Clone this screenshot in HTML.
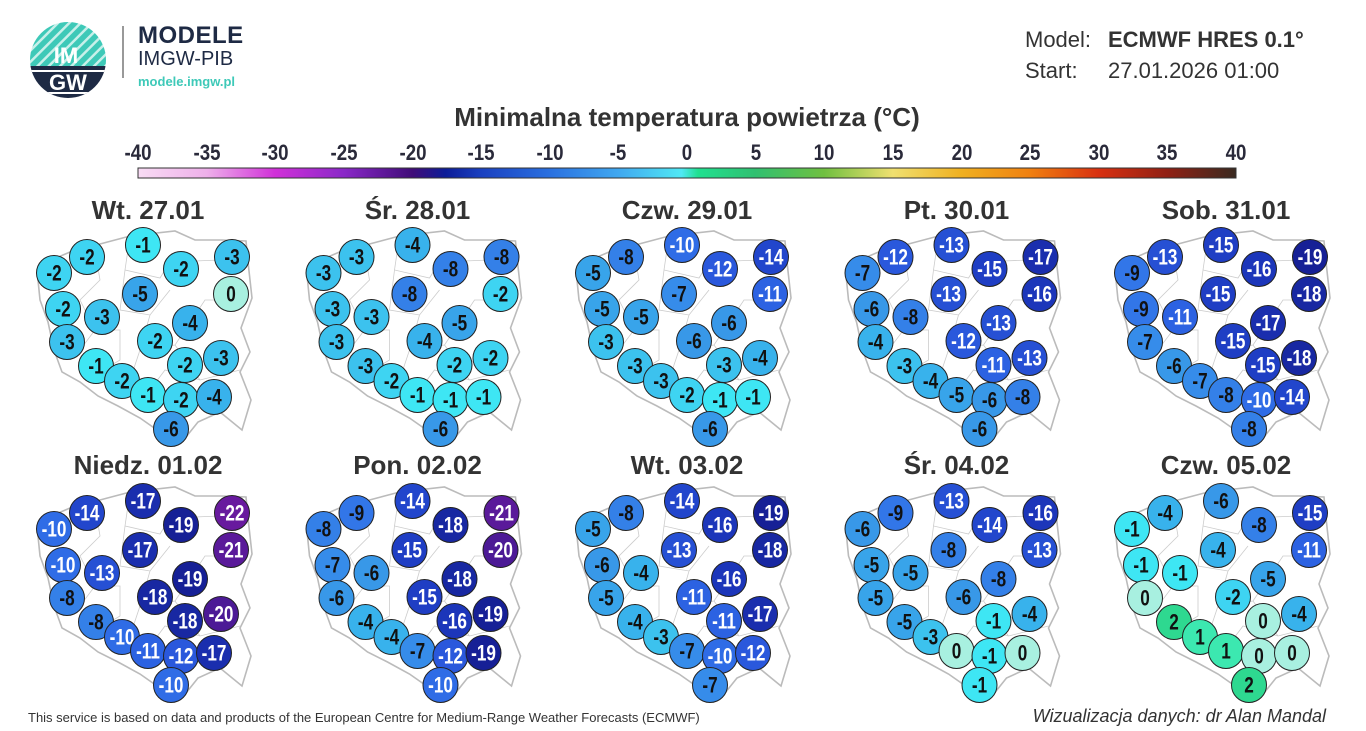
<!DOCTYPE html>
<html><head><meta charset="utf-8"><style>
body{margin:0;width:1366px;height:731px;background:#fff;font-family:"Liberation Sans","DejaVu Sans",sans-serif;overflow:hidden;position:relative;color:#222}
.a{position:absolute;white-space:nowrap}
</style></head><body>
<svg class="a" style="left:0;top:0" width="1366" height="731" id="s">
<defs>
<clipPath id="lc"><circle cx="68" cy="60" r="38"/></clipPath>
<pattern id="st" width="8" height="8" patternUnits="userSpaceOnUse" patternTransform="rotate(45)"><rect width="8" height="8" fill="#3ec9b8"/><rect width="2.5" height="8" fill="#c8f0ea"/></pattern>
<linearGradient id="cb" x1="0" x2="1">
<stop offset="0" stop-color="#f8dcf4"/><stop offset="0.0625" stop-color="#eeb0ea"/><stop offset="0.125" stop-color="#d030d8"/><stop offset="0.1875" stop-color="#8a28c8"/><stop offset="0.25" stop-color="#400c78"/><stop offset="0.28" stop-color="#0c1c98"/><stop offset="0.3125" stop-color="#1a40c0"/><stop offset="0.375" stop-color="#2a70e0"/><stop offset="0.4375" stop-color="#40a8f0"/><stop offset="0.495" stop-color="#50e8f4"/><stop offset="0.51" stop-color="#20e090"/><stop offset="0.5625" stop-color="#30c070"/><stop offset="0.625" stop-color="#70c040"/><stop offset="0.6875" stop-color="#f0e070"/><stop offset="0.75" stop-color="#f0b020"/><stop offset="0.8125" stop-color="#f08010"/><stop offset="0.875" stop-color="#d83010"/><stop offset="0.9375" stop-color="#902014"/><stop offset="1" stop-color="#3a2a20"/>
</linearGradient>
</defs>
<g clip-path="url(#lc)"><rect x="28" y="20" width="80" height="46" fill="url(#st)"/><rect x="28" y="66" width="80" height="40" fill="#1e2a44"/>
<rect x="28" y="70" width="80" height="2" fill="#fff"/><rect x="28" y="92" width="80" height="2" fill="#fff"/></g>
<text x="66" y="0" transform="translate(0,63) scale(1,1)" text-anchor="middle" font-family="Liberation Sans" font-weight="bold" font-size="22" fill="#fff">IM</text>
<text x="68" y="90" text-anchor="middle" font-family="Liberation Sans" font-weight="bold" font-size="22" fill="#fff">GW</text>
<rect x="122" y="26" width="2" height="52" fill="#999"/>
<rect x="138" y="168" width="1098" height="10" fill="url(#cb)" stroke="#333" stroke-width="1"/>
<g id="maps"></g>
</svg>
<div class="a" style="left:138px;top:22px;font-size:24px;font-weight:bold;color:#1e2a44;letter-spacing:0.5px">MODELE</div>
<div class="a" style="left:138px;top:48px;font-size:20px;color:#1e2a44">IMGW-PIB</div>
<div class="a" style="left:138px;top:74px;font-size:13px;font-weight:bold;color:#3ec9b8">modele.imgw.pl</div>
<div class="a" style="left:1025px;top:27px;font-size:22px;color:#333">Model:</div>
<div class="a" style="left:1108px;top:27px;font-size:22px;font-weight:bold;color:#333">ECMWF HRES 0.1°</div>
<div class="a" style="left:1025px;top:58px;font-size:22px;color:#333">Start:</div>
<div class="a" style="left:1108px;top:58px;font-size:22px;color:#333">27.01.2026 01:00</div>
<div class="a" style="left:0;width:1374px;text-align:center;top:102px;font-size:26px;font-weight:bold;color:#333">Minimalna temperatura powietrza (°C)</div>
<div id="t"></div>
<div class="a" style="left:28px;top:710px;font-size:13px;color:#333">This service is based on data and products of the European Centre for Medium-Range Weather Forecasts (ECMWF)</div>
<div class="a" style="right:40px;top:706px;font-size:18px;font-style:italic;color:#333">Wizualizacja danych: dr Alan Mandal</div>
<script>
var t=document.getElementById('t'),h='';
for(var v=-40;v<=40;v+=5){var x=138+(v+40)/80*1098;h+='<div class="a" style="left:'+(x-30)+'px;width:60px;text-align:center;top:140px;font-size:22px;font-weight:bold;transform:scaleX(0.85);color:#2a2a3a">'+v+'</div>';}
var titles=['Wt. 27.01','Śr. 28.01','Czw. 29.01','Pt. 30.01','Sob. 31.01','Niedz. 01.02','Pon. 02.02','Wt. 03.02','Śr. 04.02','Czw. 05.02'];
for(var i=0;i<10;i++){var cx=148+(i%5)*269.5,cy=(i<5?195:450);h+='<div class="a" style="left:'+(cx-120)+'px;width:240px;text-align:center;top:'+cy+'px;font-size:26px;font-weight:bold;color:#333">'+titles[i]+'</div>';}
t.innerHTML=h;
var P=[[54,273],[87,257],[143,245],[181,269],[232,257],[231,294],[140,294],[63,309],[102,317],[190,323],[67,342],[155,341],[96,366],[185,365],[221,358],[122,381],[148,395],[181,400],[214,397],[171,429]];
var V=[[-2,-2,-1,-2,-3,0,-5,-2,-3,-4,-3,-2,-1,-2,-3,-2,-1,-2,-4,-6],
[-3,-3,-4,-8,-8,-2,-8,-3,-3,-5,-3,-4,-3,-2,-2,-2,-1,-1,-1,-6],
[-5,-8,-10,-12,-14,-11,-7,-5,-5,-6,-3,-6,-3,-3,-4,-3,-2,-1,-1,-6],
[-7,-12,-13,-15,-17,-16,-13,-6,-8,-13,-4,-12,-3,-11,-13,-4,-5,-6,-8,-6],
[-9,-13,-15,-16,-19,-18,-15,-9,-11,-17,-7,-15,-6,-15,-18,-7,-8,-10,-14,-8],
[-10,-14,-17,-19,-22,-21,-17,-10,-13,-19,-8,-18,-8,-18,-20,-10,-11,-12,-17,-10],
[-8,-9,-14,-18,-21,-20,-15,-7,-6,-18,-6,-15,-4,-16,-19,-4,-7,-12,-19,-10],
[-5,-8,-14,-16,-19,-18,-13,-6,-4,-16,-5,-11,-4,-11,-17,-3,-7,-10,-12,-7],
[-6,-9,-13,-14,-16,-13,-8,-5,-5,-8,-5,-6,-5,-1,-4,-3,0,-1,0,-1],
[-1,-4,-6,-8,-15,-11,-4,-1,-1,-5,0,-2,2,0,-4,1,1,0,0,2]];
var C={2:'#2ed890',1:'#3ce8b0',0:'#a8f0e0','-1':'#3ee6f4','-2':'#3ed4f2','-3':'#3cc2ee','-4':'#38b2ec','-5':'#38a4ea','-6':'#3898e8','-7':'#368cea','-8':'#3480e8','-9':'#3276e8','-10':'#2f6ce6','-11':'#2c62e2','-12':'#2a58dc','-13':'#2650d4','-14':'#2246cc','-15':'#1f3ec4','-16':'#1c36ba','-17':'#1a2eae','-18':'#1828a2','-19':'#162096','-20':'#4c1a96','-21':'#5a1a9a','-22':'#681a9e'};
var shape='M42,264 L70,252 L100,244 L130,236 L175,231 L195,240 L222,240 L246,241 L248,262 L252,298 L241,328 L250,352 L240,372 L251,400 L242,430 L220,412 L198,422 L182,442 L160,432 L140,418 L118,406 L98,396 L80,382 L62,372 L54,350 L48,322 L40,300 L38,280 Z';
var inner='M95,250 L100,280 L80,300 L95,330 L80,350 M130,236 L125,270 L160,278 L170,262 L220,260 M125,270 L120,310 L150,315 L170,290 M150,315 L140,350 L175,345 L205,300 L246,300 M140,350 L130,380 L150,390 L165,370 L200,380 L240,370 M175,345 L200,380 M95,330 L120,330 L120,360 L100,372';
var g='';
for(var i=0;i<10;i++){var dx=(i%5)*269.5,dy=(i<5?0:256);
g+='<g transform="translate('+dx+','+dy+')"><path d="'+shape+'" fill="#fff" stroke="#bbb" stroke-width="1.6"/><path d="'+inner+'" fill="none" stroke="#ccc" stroke-width="0.8"/>';
for(var k=0;k<20;k++){var v=V[i][k],p=P[k];
g+='<circle cx="'+p[0]+'" cy="'+p[1]+'" r="17.5" fill="'+C[v]+'" stroke="#222" stroke-width="1"/><text transform="translate('+p[0]+','+(p[1]+7.5)+') scale(0.78,1)" text-anchor="middle" font-family="Liberation Sans,sans-serif" font-weight="bold" font-size="22" fill="'+(v<=-10?'#fff':'#111')+'">'+v+'</text>';}
g+='</g>';}
document.getElementById('maps').innerHTML=g;
</script>
</body></html>
